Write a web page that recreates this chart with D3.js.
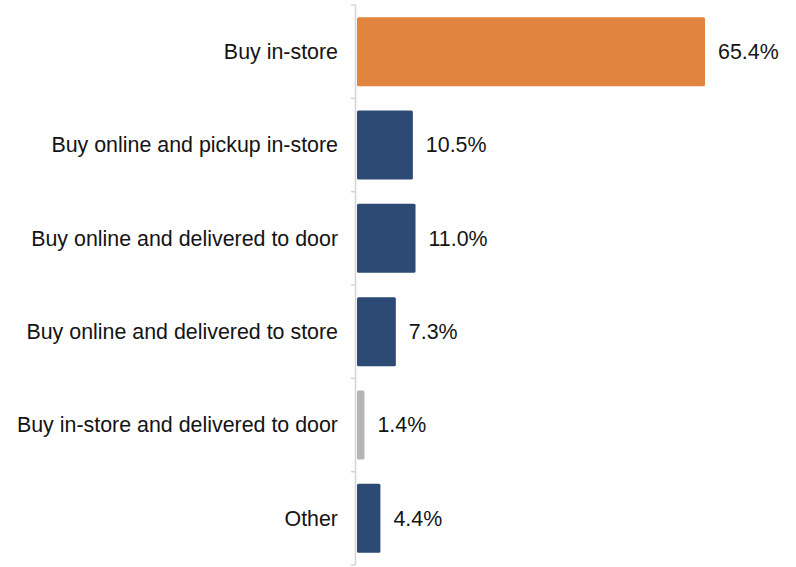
<!DOCTYPE html>
<html>
<head>
<meta charset="utf-8">
<script src="https://cdn.jsdelivr.net/npm/d3@7"></script>
<style>
  html, body { margin: 0; padding: 0; background: #fff; }
  svg { display: block; }
  text { font-family: "Liberation Sans", Arial, Helvetica, sans-serif; fill: #141414; }
</style>
</head>
<body>
<svg id="chart" width="796" height="567"></svg>
<script>
// Purchase channel shares (%)
const categories = [
  "Buy in-store",
  "Buy online and pickup in-store",
  "Buy online and delivered to door",
  "Buy online and delivered to store",
  "Buy in-store and delivered to door",
  "Other"
];
const values = [65.4, 10.5, 11.0, 7.3, 1.4, 4.4];
const valueLabels = ["65.4%", "10.5%", "11.0%", "7.3%", "1.4%", "4.4%"];
const barColors = ["#E0843F", "#2D4A74", "#2D4A74", "#2D4A74", "#B4B4B4", "#2D4A74"];

const svg = d3.select("#chart");
const axisX = 355;
const fontSize = 21.4;

const y = d3.scaleBand()
  .domain(categories)
  .range([5, 565])
  .paddingInner(0.26)
  .paddingOuter(0.13);

const x = d3.scaleLinear()
  .domain([0, 65.4])
  .range([357, 705]);

const rows = categories.map((c, i) => ({ cat: c, value: values[i], label: valueLabels[i], color: barColors[i] }));

// Category axis: vertical rule with short ticks at band boundaries
const boundaries = d3.range(categories.length + 1).map(i => 5 + i * y.step());
svg.append("line")
  .attr("x1", axisX + 0.5).attr("x2", axisX + 0.5)
  .attr("y1", boundaries[0]).attr("y2", boundaries[boundaries.length - 1])
  .attr("stroke", "#D4D4D4").attr("stroke-width", 1.5);
svg.selectAll("line.tick")
  .data(boundaries)
  .join("line")
  .attr("class", "tick")
  .attr("x1", axisX - 4).attr("x2", axisX + 0.5)
  .attr("y1", d => d).attr("y2", d => d)
  .attr("stroke", "#D4D4D4").attr("stroke-width", 1.5);

// Bars
svg.selectAll("rect.bar")
  .data(rows)
  .join("rect")
  .attr("class", "bar")
  .attr("x", x(0))
  .attr("y", d => y(d.cat))
  .attr("width", d => x(d.value) - x(0))
  .attr("height", y.bandwidth())
  .attr("rx", 1.5)
  .attr("fill", d => d.color);

// Category labels
svg.selectAll("text.cat")
  .data(rows)
  .join("text")
  .attr("class", "cat")
  .attr("x", 338)
  .attr("y", d => y(d.cat) + y.bandwidth() / 2)
  .attr("dy", "0.35em")
  .attr("text-anchor", "end")
  .style("font-size", fontSize + "px")
  .text(d => d.cat);

// Value labels
svg.selectAll("text.val")
  .data(rows)
  .join("text")
  .attr("class", "val")
  .attr("x", d => x(d.value) + 13)
  .attr("y", d => y(d.cat) + y.bandwidth() / 2)
  .attr("dy", "0.35em")
  .style("font-size", fontSize + "px")
  .text(d => d.label);
</script>
</body>
</html>
